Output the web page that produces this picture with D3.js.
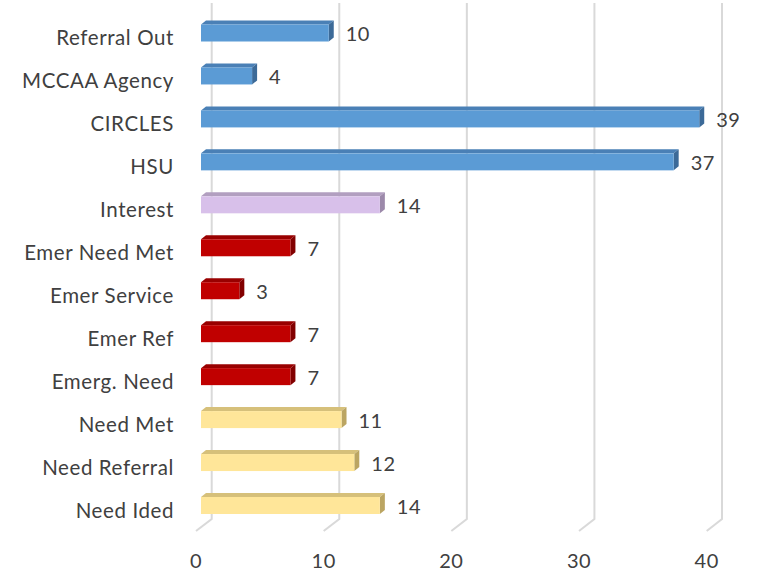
<!DOCTYPE html>
<html><head><meta charset="utf-8">
<script src="https://cdn.jsdelivr.net/npm/d3@7"></script>
<style>body{margin:0;background:#fff}svg{display:block}</style>
</head><body>
<script>
const categories = ["Referral Out","MCCAA Agency","CIRCLES","HSU","Interest","Emer Need Met","Emer Service","Emer Ref","Emerg. Need","Need Met","Need Referral","Need Ided"];
const values = [10,4,39,37,14,7,3,7,7,11,12,14];
const groups = ["blue","blue","blue","blue","lavender","red","red","red","red","yellow","yellow","yellow"];
const ticks = [0,10,20,30,40];

const palette = {
  blue:{front:"#5B9BD5",top:"#4A80B6",side:"#3C6A98"},
  lavender:{front:"#D8C0EA",top:"#B29FC0",side:"#9C89AA"},
  red:{front:"#C00000",top:"#990000",side:"#820000"},
  yellow:{front:"#FFE699",top:"#D6C07A",side:"#BBA562"}
};

const W=758,H=574;
const svg=d3.select("body").append("svg").attr("width",W).attr("height",H);
const font="Lato, 'Open Sans', sans-serif";
const dx=5, dy=-4;
const barX=d3.scaleLinear().domain([0,40]).range([201,712]);
const backX=d3.scaleLinear().domain([0,40]).range([211.7,722]);
const floorX=d3.scaleLinear().domain([0,40]).range([196,706.7]);
const y=d3.scalePoint().domain(categories).range([33,505.5]);
const bh=17;

// gridlines
const g=svg.append("g");
ticks.forEach(t=>{
  g.append("path").attr("d",`M${backX(t)},3 L${backX(t)},519 L${floorX(t)},531`)
   .attr("fill","none").attr("stroke","#D9D9D9").attr("stroke-width",2);
  svg.append("text").attr("x",floorX(t)).attr("y",568).attr("text-anchor","middle")
   .attr("font-family",font).attr("font-size",20).attr("letter-spacing",0.5).attr("fill","#404040").text(t);
});

// bars
categories.forEach((c,i)=>{
  const v=values[i], col=palette[groups[i]];
  const x0=barX(0), x1=barX(v), yt=y(c)-bh/2, yb=y(c)+bh/2;
  svg.append("polygon").attr("points",`${x0},${yt} ${x0+dx},${yt+dy} ${x1+dx},${yt+dy} ${x1},${yt}`).attr("fill",col.top);
  svg.append("polygon").attr("points",`${x1},${yt} ${x1+dx},${yt+dy} ${x1+dx},${yb+dy} ${x1},${yb}`).attr("fill",col.side);
  svg.append("rect").attr("x",x0).attr("y",yt).attr("width",x1-x0).attr("height",bh).attr("fill",col.front);
  svg.append("text").attr("x",x1+17).attr("y",y(c)+3).attr("dominant-baseline","middle")
   .attr("font-family",font).attr("font-size",20).attr("letter-spacing",0.5).attr("fill","#404040").text(v);
  svg.append("text").attr("x",174).attr("y",y(c)+7).attr("dominant-baseline","middle").attr("text-anchor","end")
   .attr("font-family",font).attr("font-size",20.5).attr("letter-spacing",0.6).attr("fill","#404040").text(c);
});
</script>
</body></html>
